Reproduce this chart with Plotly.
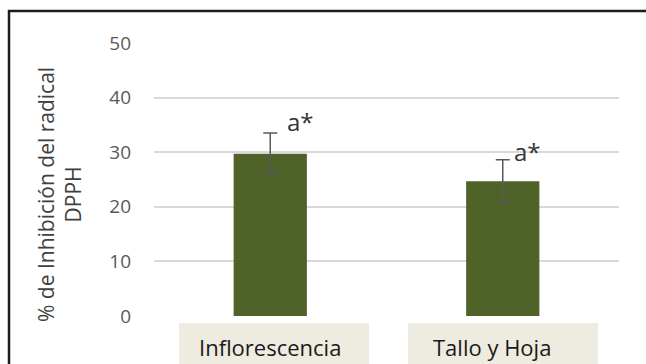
import plotly.graph_objects as go

categories = ["Inflorescencia", "Tallo y Hoja"]
values = [29.7, 24.7]
errors = [3.8, 3.9]
sig_labels = ["a*", "a*"]
y_ticks = [0, 10, 20, 30, 40, 50]

W, H = 646, 364
L, R, T, B = 154, 27, 43, 48
pw, ph = W - L - R, H - T - B

def px_x(p):
    return (p - L) / pw

def px_y(p):
    return (H - B - p) / ph

fig = go.Figure()
fig.add_trace(go.Bar(
    x=list(range(len(categories))), y=values,
    width=0.315,
    marker=dict(color="#4F6228", line=dict(width=0)),
    error_y=dict(type="data", array=errors, visible=True,
                 color="#595959", thickness=1.5, width=7),
    hoverinfo="skip",
))

shapes = []
# outer frame (top and left edges visible)
shapes.append(dict(type="line", xref="paper", yref="paper",
                   x0=px_x(8), x1=px_x(700), y0=px_y(11), y1=px_y(11),
                   line=dict(color="#1e1e1e", width=2.5)))
shapes.append(dict(type="line", xref="paper", yref="paper",
                   x0=px_x(9), x1=px_x(9), y0=px_y(10), y1=px_y(400),
                   line=dict(color="#1e1e1e", width=2.5)))
# category label backgrounds
box_off = [(-0.392, 0.425), (-0.408, 0.41)]
for i, (a, b) in enumerate(box_off):
    shapes.append(dict(type="rect", xref="x", yref="paper",
                       x0=i + a, x1=i + b, y0=px_y(323), y1=px_y(380),
                       fillcolor="#EEEBE0", line=dict(width=0), layer="below"))

annotations = []
label_shift = [0, -11]
for i, c in enumerate(categories):
    annotations.append(dict(x=i, xref="x", y=px_y(347), yref="paper",
                            text=c, showarrow=False, xshift=label_shift[i],
                            font=dict(family="Open Sans", size=22, color="#1a1a1a"),
                            xanchor="center", yanchor="middle"))
sig_shift = [(30, 12), (25, 8)]
for i, s in enumerate(sig_labels):
    annotations.append(dict(x=i, xref="x", y=values[i] + errors[i], yref="y",
                            text=s, showarrow=False,
                            xshift=sig_shift[i][0], yshift=sig_shift[i][1],
                            font=dict(family="Open Sans", size=24, color="#333333"),
                            xanchor="center", yanchor="middle"))
annotations.append(dict(xref="paper", yref="paper", x=px_x(59), y=px_y(195),
                        text="% de Inhibición del radical<br>DPPH",
                        textangle=-90, showarrow=False,
                        font=dict(family="Open Sans", size=21, color="#404040"),
                        xanchor="center", yanchor="middle"))

fig.update_layout(
    width=W, height=H,
    margin=dict(l=L, r=R, t=T, b=B, autoexpand=False),
    paper_bgcolor="white", plot_bgcolor="white",
    showlegend=False,
    shapes=shapes, annotations=annotations,
    xaxis=dict(range=[-0.5, 1.5], showticklabels=False, showgrid=False,
               zeroline=False, showline=False, ticks=""),
    yaxis=dict(range=[0, 50], tickvals=y_ticks, showgrid=True,
               gridcolor="#D9D9D9", gridwidth=1.5, zeroline=False,
               showline=False, ticks="", ticklabelstandoff=22,
               tickfont=dict(family="Open Sans", size=19, color="#595959")),
)

fig.write_html("out.html")
